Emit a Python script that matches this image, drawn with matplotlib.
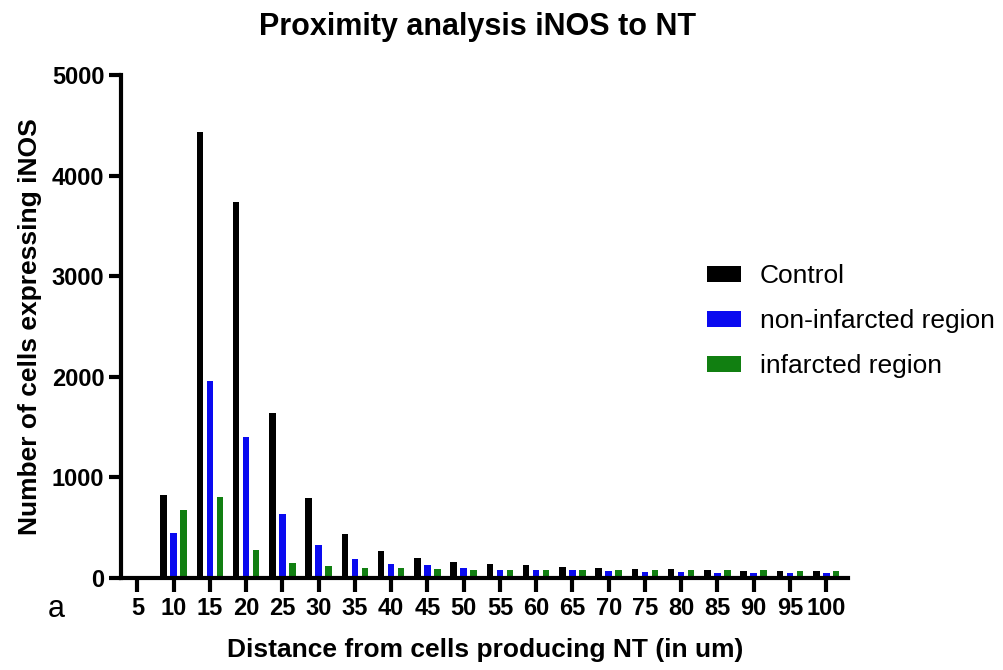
import numpy as np
import matplotlib
matplotlib.use("Agg")
import matplotlib.pyplot as plt

plt.rcParams['font.family'] = ['Liberation Sans', 'DejaVu Sans']

distances = ["5", "10", "15", "20", "25", "30", "35", "40", "45", "50",
             "55", "60", "65", "70", "75", "80", "85", "90", "95", "100"]
control = [0, 830, 4430, 3740, 1640, 800, 440, 270, 200, 160,
           135, 125, 110, 95, 90, 85, 80, 70, 70, 65]
non_infarcted = [0, 450, 1960, 1400, 640, 330, 190, 140, 130, 100,
                 80, 80, 75, 65, 60, 55, 50, 50, 45, 45]
infarcted = [0, 680, 810, 280, 150, 120, 100, 100, 90, 80,
             75, 75, 75, 75, 75, 75, 75, 75, 70, 70]

series_names = ["Control", "non-infarcted region", "infarcted region"]
series_colors = ["#000000", "#0a0af0", "#117f11"]

W, H = 1004, 670
fig = plt.figure(figsize=(W / 100, H / 100), dpi=100)
ax = fig.add_axes([121 / W, (H - 578) / H, (848 - 121) / W, (578 - 75) / H])

x = np.arange(len(distances))
offset = 0.275
width = 0.18
for i, (vals, name, col) in enumerate(zip([control, non_infarcted, infarcted], series_names, series_colors)):
    ax.bar(x + (i - 1) * offset, vals, width=width, color=col, label=name, zorder=2)

ax.set_xlim(-0.45, 19.6)
ax.set_ylim(0, 5000)
ax.set_yticks([0, 1000, 2000, 3000, 4000, 5000])
ax.set_xticks(x)
ax.set_xticklabels(distances)

for side in ["top", "right"]:
    ax.spines[side].set_visible(False)
for side in ["left", "bottom"]:
    ax.spines[side].set_linewidth(3)
    ax.spines[side].set_zorder(3)

ax.tick_params(axis="both", which="major", width=3, direction="out", labelsize=17)
ax.tick_params(axis="x", length=10, pad=4)
ax.tick_params(axis="y", length=9, pad=3)
for lab in ax.get_xticklabels() + ax.get_yticklabels():
    lab.set_fontweight("bold")

fig.text(478 / W, 1 - 27 / H, "Proximity analysis iNOS to NT", fontsize=22,
         fontweight="bold", ha="center", va="center")
ax.set_ylabel("Number of cells expressing iNOS", fontsize=19, fontweight="bold")
ax.yaxis.set_label_coords(30 / W, 1 - 327 / H, transform=fig.transFigure)
ax.yaxis.label.set_va("center")
ax.set_xlabel("Distance from cells producing NT (in um)", fontsize=19, fontweight="bold")
ax.xaxis.set_label_coords(485 / W, 1 - 650 / H, transform=fig.transFigure)
ax.xaxis.label.set_va("center")

fig.text(56 / W, 1 - 609 / H, "a", fontsize=22, ha="center", va="center")

leg = ax.legend(loc="upper left", bbox_to_anchor=(707 / W, 1 - 264 / H),
                bbox_transform=fig.transFigure, frameon=False, borderpad=0,
                borderaxespad=0, fontsize=19, handlelength=1.3, handleheight=0.55,
                labelspacing=0.8, handletextpad=0.7)

fig.savefig("out.png", dpi=100)
